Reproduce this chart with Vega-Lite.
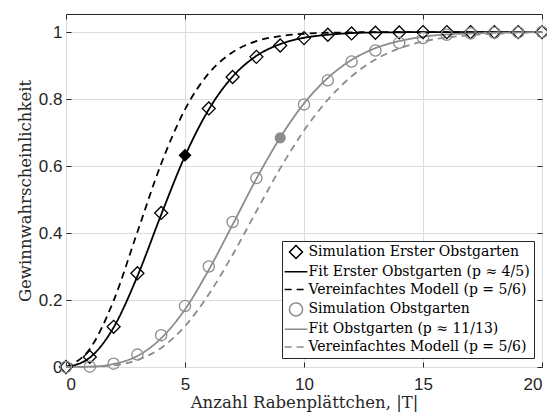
{
  "$schema": "https://vega.github.io/schema/vega-lite/v6.json",
  "width": 476,
  "height": 353,
  "autosize": {"type": "none"},
  "padding": {"left": 66, "top": 14, "right": 5, "bottom": 45},
  "background": "white",
  "config": {
    "view": {"stroke": "#262626", "strokeWidth": 1},
    "axis": {
      "labelFont": "Liberation Sans", "labelFontSize": 17, "labelColor": "#262626",
      "titleFont": "DejaVu Serif", "titleFontSize": 16.5, "titleFontWeight": "normal", "titleColor": "#262626",
      "gridColor": "#dcdcdc", "gridOpacity": 1, "gridWidth": 1,
      "tickColor": "#262626", "tickSize": -5, "tickWidth": 1, "domain": false
    },
    "legend": {
      "orient": "none", "legendX": 216, "legendY": 227,
      "padding": 3.5, "strokeColor": "#262626", "fillColor": "white", "cornerRadius": 0,
      "labelFont": "DejaVu Serif", "labelFontSize": 14, "labelColor": "#000000", "labelLimit": 400,
      "symbolSize": 169, "symbolStrokeWidth": 1.5, "symbolOffset": 3, "labelOffset": 5,
      "rowPadding": 2.8, "title": null
    }
  },
  "datasets": {
    "curves": [
      {"T": 0, "P": 0, "s": "B"}, {"T": 1, "P": 0.028, "s": "B"}, {"T": 2, "P": 0.118, "s": "B"}, {"T": 3, "P": 0.271, "s": "B"}, {"T": 4, "P": 0.455, "s": "B"}, {"T": 5, "P": 0.63, "s": "B"}, {"T": 6, "P": 0.769, "s": "B"}, {"T": 7, "P": 0.867, "s": "B"}, {"T": 8, "P": 0.929, "s": "B"}, {"T": 9, "P": 0.964, "s": "B"}, {"T": 10, "P": 0.983, "s": "B"}, {"T": 11, "P": 0.992, "s": "B"}, {"T": 12, "P": 0.997, "s": "B"}, {"T": 13, "P": 0.999, "s": "B"}, {"T": 14, "P": 0.9995, "s": "B"}, {"T": 15, "P": 1, "s": "B"}, {"T": 16, "P": 1, "s": "B"}, {"T": 17, "P": 1, "s": "B"}, {"T": 18, "P": 1, "s": "B"}, {"T": 19, "P": 1, "s": "B"}, {"T": 20, "P": 1, "s": "B"},
      {"T": 0, "P": 0, "s": "C"}, {"T": 1, "P": 0.054, "s": "C"}, {"T": 2, "P": 0.198, "s": "C"}, {"T": 3, "P": 0.403, "s": "C"}, {"T": 4, "P": 0.607, "s": "C"}, {"T": 5, "P": 0.769, "s": "C"}, {"T": 6, "P": 0.877, "s": "C"}, {"T": 7, "P": 0.94, "s": "C"}, {"T": 8, "P": 0.973, "s": "C"}, {"T": 9, "P": 0.988, "s": "C"}, {"T": 10, "P": 0.995, "s": "C"}, {"T": 11, "P": 0.998, "s": "C"}, {"T": 12, "P": 0.999, "s": "C"}, {"T": 13, "P": 1, "s": "C"}, {"T": 14, "P": 1, "s": "C"}, {"T": 15, "P": 1, "s": "C"}, {"T": 16, "P": 1, "s": "C"}, {"T": 17, "P": 1, "s": "C"}, {"T": 18, "P": 1, "s": "C"}, {"T": 19, "P": 1, "s": "C"}, {"T": 20, "P": 1, "s": "C"},
      {"T": 0, "P": 0, "s": "E"}, {"T": 1, "P": 0.001, "s": "E"}, {"T": 2, "P": 0.009, "s": "E"}, {"T": 3, "P": 0.033, "s": "E"}, {"T": 4, "P": 0.086, "s": "E"}, {"T": 5, "P": 0.172, "s": "E"}, {"T": 6, "P": 0.29, "s": "E"}, {"T": 7, "P": 0.425, "s": "E"}, {"T": 8, "P": 0.562, "s": "E"}, {"T": 9, "P": 0.685, "s": "E"}, {"T": 10, "P": 0.787, "s": "E"}, {"T": 11, "P": 0.863, "s": "E"}, {"T": 12, "P": 0.917, "s": "E"}, {"T": 13, "P": 0.952, "s": "E"}, {"T": 14, "P": 0.973, "s": "E"}, {"T": 15, "P": 0.986, "s": "E"}, {"T": 16, "P": 0.993, "s": "E"}, {"T": 17, "P": 0.996, "s": "E"}, {"T": 18, "P": 0.998, "s": "E"}, {"T": 19, "P": 0.999, "s": "E"}, {"T": 20, "P": 1, "s": "E"},
      {"T": 0, "P": 0, "s": "F"}, {"T": 1, "P": 0.001, "s": "F"}, {"T": 2, "P": 0.005, "s": "F"}, {"T": 3, "P": 0.021, "s": "F"}, {"T": 4, "P": 0.057, "s": "F"}, {"T": 5, "P": 0.122, "s": "F"}, {"T": 6, "P": 0.217, "s": "F"}, {"T": 7, "P": 0.335, "s": "F"}, {"T": 8, "P": 0.465, "s": "F"}, {"T": 9, "P": 0.593, "s": "F"}, {"T": 10, "P": 0.706, "s": "F"}, {"T": 11, "P": 0.798, "s": "F"}, {"T": 12, "P": 0.868, "s": "F"}, {"T": 13, "P": 0.918, "s": "F"}, {"T": 14, "P": 0.951, "s": "F"}, {"T": 15, "P": 0.972, "s": "F"}, {"T": 16, "P": 0.984, "s": "F"}, {"T": 17, "P": 0.991, "s": "F"}, {"T": 18, "P": 0.995, "s": "F"}, {"T": 19, "P": 0.998, "s": "F"}, {"T": 20, "P": 0.999, "s": "F"}
    ],
    "sim": [
      {"T": 0, "P": 0, "s": "A"}, {"T": 1, "P": 0.03, "s": "A"}, {"T": 2, "P": 0.12, "s": "A"}, {"T": 3, "P": 0.28, "s": "A"}, {"T": 4, "P": 0.46, "s": "A"}, {"T": 6, "P": 0.772, "s": "A"}, {"T": 7, "P": 0.866, "s": "A"}, {"T": 8, "P": 0.926, "s": "A"}, {"T": 9, "P": 0.96, "s": "A"}, {"T": 10, "P": 0.982, "s": "A"}, {"T": 11, "P": 0.992, "s": "A"}, {"T": 12, "P": 0.996, "s": "A"}, {"T": 13, "P": 0.998, "s": "A"}, {"T": 14, "P": 0.999, "s": "A"}, {"T": 15, "P": 1, "s": "A"}, {"T": 16, "P": 1, "s": "A"}, {"T": 17, "P": 1, "s": "A"}, {"T": 18, "P": 1, "s": "A"}, {"T": 19, "P": 1, "s": "A"}, {"T": 20, "P": 1, "s": "A"},
      {"T": 0, "P": 0, "s": "D"}, {"T": 1, "P": 0.001, "s": "D"}, {"T": 2, "P": 0.01, "s": "D"}, {"T": 3, "P": 0.037, "s": "D"}, {"T": 4, "P": 0.095, "s": "D"}, {"T": 5, "P": 0.182, "s": "D"}, {"T": 6, "P": 0.3, "s": "D"}, {"T": 7, "P": 0.433, "s": "D"}, {"T": 8, "P": 0.564, "s": "D"}, {"T": 10, "P": 0.784, "s": "D"}, {"T": 11, "P": 0.856, "s": "D"}, {"T": 12, "P": 0.912, "s": "D"}, {"T": 13, "P": 0.945, "s": "D"}, {"T": 14, "P": 0.968, "s": "D"}, {"T": 15, "P": 0.982, "s": "D"}, {"T": 16, "P": 0.992, "s": "D"}, {"T": 17, "P": 0.996, "s": "D"}, {"T": 18, "P": 0.998, "s": "D"}, {"T": 19, "P": 0.999, "s": "D"}, {"T": 20, "P": 1, "s": "D"}
    ],
    "hl": [
      {"T": 5, "P": 0.632, "s": "A"},
      {"T": 9, "P": 0.684, "s": "D"}
    ]
  },
  "layer": [
    {
      "data": {"name": "curves"},
      "mark": {"type": "line", "interpolate": "monotone", "strokeWidth": 1.8},
      "encoding": {
        "x": {"field": "T", "type": "quantitative", "scale": {"domain": [0, 20], "nice": false},
              "axis": {"values": [0, 5, 10, 15, 20], "title": "Anzahl Rabenplättchen, |T|", "labelPadding": 14, "titlePadding": 2}},
        "y": {"field": "P", "type": "quantitative", "scale": {"domain": [0, 1.054], "nice": false},
              "axis": {"values": [0, 0.2, 0.4, 0.6, 0.8, 1], "format": ".1~f", "title": "Gewinnwahrscheinlichkeit", "labelPadding": 9, "titlePadding": 5}},
        "color": {"field": "s", "type": "nominal",
                  "scale": {"domain": ["A", "B", "C", "D", "E", "F"], "range": ["#000000", "#000000", "#000000", "#8c8c8c", "#8c8c8c", "#8c8c8c"]},
                  "legend": {"labelExpr": "{'A':'Simulation Erster Obstgarten','B':'Fit Erster Obstgarten (p ≈ 4/5)','C':'Vereinfachtes Modell (p = 5/6)','D':'Simulation Obstgarten','E':'Fit Obstgarten (p ≈ 11/13)','F':'Vereinfachtes Modell (p = 5/6)'}[datum.value]"}},
        "strokeDash": {"field": "s", "type": "nominal",
                  "scale": {"domain": ["A", "B", "C", "D", "E", "F"], "range": [[1, 0], [1, 0], [7, 5], [1, 0], [1, 0], [7, 5]]},
                  "legend": {"labelExpr": "{'A':'Simulation Erster Obstgarten','B':'Fit Erster Obstgarten (p ≈ 4/5)','C':'Vereinfachtes Modell (p = 5/6)','D':'Simulation Obstgarten','E':'Fit Obstgarten (p ≈ 11/13)','F':'Vereinfachtes Modell (p = 5/6)'}[datum.value]"}}
      }
    },
    {
      "data": {"name": "sim"},
      "mark": {"type": "point", "filled": false, "strokeWidth": 1.3, "opacity": 1},
      "encoding": {
        "x": {"field": "T", "type": "quantitative", "axis": null},
        "y": {"field": "P", "type": "quantitative", "axis": null},
        "color": {"field": "s", "type": "nominal"},
        "shape": {"field": "s", "type": "nominal",
                  "scale": {"domain": ["A", "B", "C", "D", "E", "F"], "range": ["diamond", "M-1.75,0L1.75,0", "M-1.75,0L1.75,0", "circle", "M-1.75,0L1.75,0", "M-1.75,0L1.75,0"]},
                  "legend": {"labelExpr": "{'A':'Simulation Erster Obstgarten','B':'Fit Erster Obstgarten (p ≈ 4/5)','C':'Vereinfachtes Modell (p = 5/6)','D':'Simulation Obstgarten','E':'Fit Obstgarten (p ≈ 11/13)','F':'Vereinfachtes Modell (p = 5/6)'}[datum.value]"}},
        "size": {"condition": {"test": "datum.s === 'A'", "value": 169}, "value": 125}
      }
    },
    {
      "data": {"name": "hl"},
      "mark": {"type": "point", "filled": true, "opacity": 1},
      "encoding": {
        "x": {"field": "T", "type": "quantitative",
              "axis": {"orient": "top", "values": [0, 5, 10, 15, 20], "labels": false, "title": null, "grid": false}},
        "y": {"field": "P", "type": "quantitative",
              "axis": {"orient": "right", "values": [0, 0.2, 0.4, 0.6, 0.8, 1], "labels": false, "title": null, "grid": false}},
        "shape": {"condition": {"test": "datum.s === 'A'", "value": "diamond"}, "value": "circle"},
        "color": {"condition": {"test": "datum.s === 'A'", "value": "#000000"}, "value": "#8c8c8c"},
        "size": {"condition": {"test": "datum.s === 'A'", "value": 169}, "value": 125}
      }
    }
  ],
  "resolve": {"axis": {"x": "independent", "y": "independent"}}
}
